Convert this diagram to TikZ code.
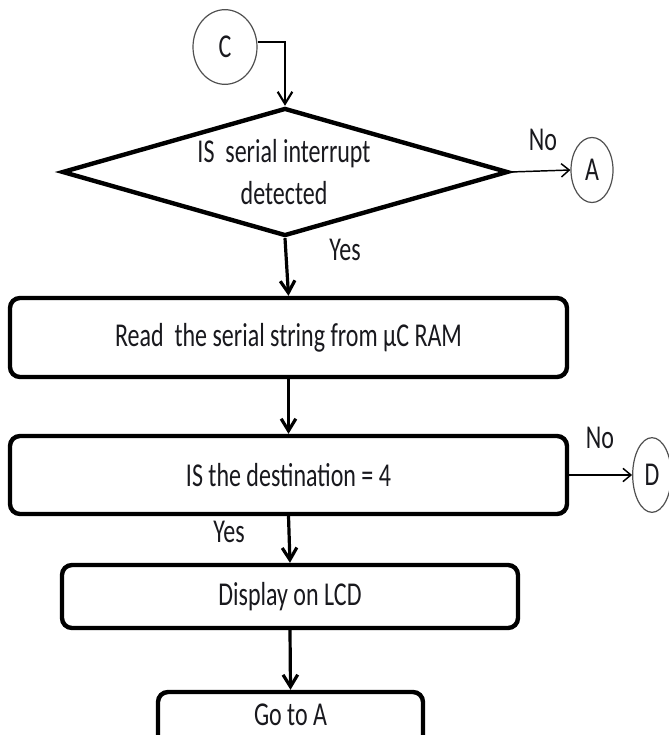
\documentclass[tikz,border=0pt]{standalone}
\usepackage{fontspec}
\setmainfont{Carlito}[FakeStretch=0.72]
\usetikzlibrary{shapes.geometric,arrows.meta}
\definecolor{txt}{RGB}{25,25,30}
\definecolor{circ}{RGB}{80,80,80}
\begin{document}
\begin{tikzpicture}[x=0.75pt,y=-0.75pt,
  every node/.style={font=\fontsize{25pt}{32pt}\selectfont, text=txt},
  procbox/.style={draw, line width=3.3pt, rounded corners=7.5pt, inner sep=0pt, align=center},
  decide/.style={draw, diamond, line width=3.3pt, inner sep=0pt, align=center},
  conncirc/.style={draw=circ, ellipse, line width=0.9pt, inner sep=0pt},
  mainflow/.style={line width=2.4pt, -{Straight Barb[length=9pt,width=11pt]}},
  sideflow/.style={line width=1.1pt, -{Straight Barb[length=6pt,width=10pt]}},
  lbl/.style={inner sep=0pt}
]
\useasboundingbox (0,0) rectangle (668,735);
\fill[white] (0,0) rectangle (668,735);

\node[conncirc, minimum width=48pt, minimum height=56pt] (C) at (225,47) {C};
\node[decide, minimum width=334.5pt, minimum height=96pt] (Q1) at (285,172) {};
\node[lbl, align=center] (Q1t) at (284,172) {IS\ \ serial interrupt\\detected};
\node[conncirc, minimum width=31.5pt, minimum height=48.75pt] (A) at (592,170) {A};

\node[procbox, minimum width=417.75pt, minimum height=59.25pt] (B1) at (288.5,337.5) {Read\ \ the serial string from µC RAM};
\node[procbox, minimum width=417.75pt, minimum height=58.5pt] (B2) at (288.5,475) {IS the destination = 4};
\node[conncirc, minimum width=29pt, minimum height=56pt] (D) at (652,475) {D};
\node[procbox, minimum width=342pt, minimum height=47.25pt] (B3) at (290,596.5) {Display on LCD};
\node[procbox, minimum width=198.75pt, minimum height=43.5pt, text height=18pt, text depth=12pt] (B4) at (290.5,721) {Go to A};

\node[lbl] (no1) at (543,140) {No};
\node[lbl] (yes1) at (345,250) {Yes};
\node[lbl] (no2) at (600,438) {No};
\node[lbl] (yes2) at (229,532) {Yes};

\draw[line width=1.6pt, -{Straight Barb[length=9pt,width=11pt]}] ([yshift=4pt]C.east) -| (Q1.north);
\draw[sideflow] (Q1.east) -- (A.west);
\draw[mainflow] (Q1.south) -- (B1.north);
\draw[mainflow] (B1.south) -- (B2.north);
\draw[sideflow] (B2.east) -- (D.west);
\draw[mainflow] (B2.south) -- (B3.north);
\draw[mainflow] (B3.south) -- (B4.north);
\end{tikzpicture}
\end{document}
